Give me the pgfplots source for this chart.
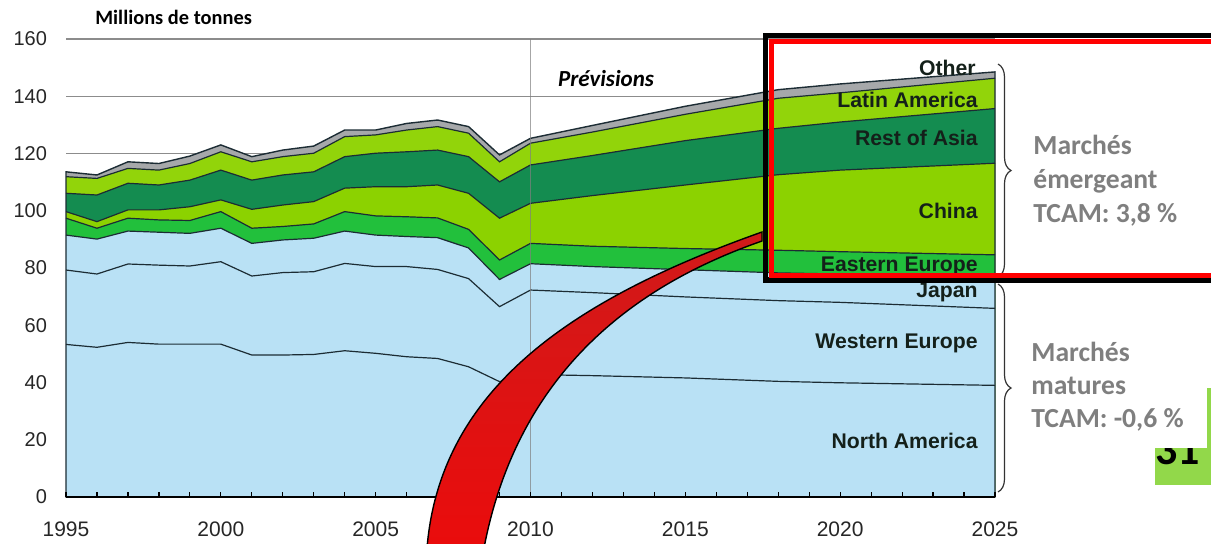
\documentclass[border=0pt]{standalone}
\usepackage{fontspec}
\setmainfont{Liberation Sans}
\newfontfamily\carlito{Carlito}
\usepackage{pgfplots}
\usepackage{pgfplotstable}
\pgfplotsset{compat=1.18}
\usetikzlibrary{decorations.pathreplacing}

\definecolor{lblue}{HTML}{B9E1F5}
\definecolor{mgreen}{HTML}{22C03C}
\definecolor{lgreen}{HTML}{8CD200}
\definecolor{lgreenb}{HTML}{92D40A}
\definecolor{dgreen}{HTML}{148C50}
\definecolor{othc}{HTML}{A6A8AA}
\definecolor{linec}{HTML}{1C2C34}
\definecolor{gridc}{HTML}{8C8C8C}
\definecolor{labc}{HTML}{14201A}
\definecolor{grayt}{HTML}{7F7F7F}
\definecolor{boxgreen}{HTML}{92D84A}
\definecolor{ardark}{HTML}{922628}
\definecolor{arbright}{HTML}{EA0C0C}
\definecolor{artop}{HTML}{D01A1A}

\pgfplotstableread{
year na we jp ee cn ra la ot
1995 53.3 79.3 91.5 97.4 99.7 106.1 111.9 113.6
1996 52.3 77.9 90.1 93.9 96.2 105.5 111.3 112.5
1997 54.0 81.4 92.9 97.4 100.3 109.6 114.8 117.1
1998 53.4 81.0 92.5 96.8 100.3 109.0 114.2 116.5
1999 53.4 80.7 92.1 96.6 101.4 110.7 116.5 119.1
2000 53.4 82.2 93.9 99.7 103.8 114.2 120.6 123.0
2001 49.6 77.2 88.6 93.9 100.5 110.7 117.1 118.9
2002 49.6 78.4 89.8 94.5 102.0 112.5 118.9 121.2
2003 49.8 78.7 90.4 95.4 103.2 113.6 120.1 122.6
2004 51.1 81.6 92.9 99.7 107.9 118.9 125.9 128.2
2005 50.2 80.5 91.5 98.2 108.4 120.1 126.5 128.2
2006 49.0 80.5 91.0 97.9 108.4 120.6 128.2 130.5
2007 48.4 79.5 90.6 97.5 109.0 121.2 129.4 131.7
2008 45.5 76.3 87.0 93.5 106.1 118.9 127.1 129.4
2009 40.3 66.5 76.0 82.8 97.4 110.1 117.1 119.5
2010 42.8 72.3 81.5 88.6 102.6 116.0 123.6 125.3
2012 42.4 71.4 80.5 87.6 105.3 119.3 127.5 129.8
2015 41.6 69.9 79.4 86.8 109.0 124.5 133.7 136.5
2018 40.4 68.6 78.3 86.2 112.6 128.8 139.3 142.3
2020 39.9 68.0 77.9 85.7 114.2 131.0 141.2 144.3
2025 39.0 65.9 77.0 84.6 116.6 135.7 146.3 148.5
}\data

\begin{document}
\begin{tikzpicture}
\begin{axis}[
  at={(0,0)}, anchor=south west,
  scale only axis, width=464.5pt, height=229pt,
  xmin=1995, xmax=2025, ymin=0, ymax=160,
  clip=false, axis on top, no markers,
  axis x line*=bottom, axis y line*=left,
  y axis line style={draw=none},
  x axis line style={black, line width=0.8pt},
  xtick={1995,2000,...,2025}, minor x tick num=4,
  ytick={0,20,...,160},
  every tick/.style={black, line width=0.6pt},
  ytick style={draw=none},
  tick align=inside,
  major tick length=2.6pt, minor tick length=2.6pt,
  /pgf/number format/1000 sep={},
  /pgf/number format/assume math mode=true,
  xticklabel style={font=\fontsize{10.5}{12}\selectfont, text=black!85, yshift=-9pt},
  yticklabel style={font=\fontsize{10}{12}\selectfont, text=black!85, xshift=-6pt},
]
\pgfplotsinvokeforeach{20,40,...,160}{
  \draw[gridc, line width=0.7pt] (axis cs:1995,#1) -- (axis cs:2025,#1);
}
\addplot[draw=none, fill=othc] table[x=year,y=ot]{\data} \closedcycle;
\addplot[draw=none, fill=lgreenb] table[x=year,y=la]{\data} \closedcycle;
\addplot[draw=none, fill=dgreen] table[x=year,y=ra]{\data} \closedcycle;
\addplot[draw=none, fill=lgreen] table[x=year,y=cn]{\data} \closedcycle;
\addplot[draw=none, fill=mgreen] table[x=year,y=ee]{\data} \closedcycle;
\addplot[draw=none, fill=lblue] table[x=year,y=jp]{\data} \closedcycle;
\pgfplotsinvokeforeach{na,we,jp,ee,cn,ra,la}{
  \addplot[linec, line width=0.6pt] table[x=year,y=#1]{\data};
}
\addplot[linec, line width=0.7pt] table[x=year,y=ot]{\data} \closedcycle;
\draw[gray, opacity=0.7, line width=0.5pt] (axis cs:2010,0) -- (axis cs:2010,160);
\end{axis}

\begin{scope}[x=0.5pt, y=-0.5pt, shift={(-66,-497)}]
  \node[anchor=west, inner sep=0pt, font=\carlito\bfseries\fontsize{10.2}{12}\selectfont] at (95,17) {Millions de tonnes};
  \node[inner sep=0pt, font=\carlito\bfseries\itshape\fontsize{11.5}{13}\selectfont] at (606,79) {Prévisions};

  \begin{scope}[every node/.style={anchor=east, inner sep=0pt, text=labc, font=\bfseries\fontsize{10.6}{12}\selectfont}]
    \node at (976,68) {Other};
    \node at (978,100) {Latin America};
    \node at (978,138) {Rest of Asia};
    \node at (978,211) {China};
    \node at (978,266) {Eastern Europe};
    \node at (978,292) {Japan};
    \node at (978,343) {Western Europe};
    \node at (978,441) {North America};
  \end{scope}

  \draw[decorate, decoration={brace, amplitude=6.5pt}, black!80, line width=0.6pt] (998,64) -- (998,277);
  \draw[decorate, decoration={brace, amplitude=6.5pt}, black!80, line width=0.6pt] (998,284) -- (998,492);

  \draw[black, line width=2.75pt] (765.5,35.5) rectangle (1240,280);
  \draw[red, line width=2.5pt] (771.5,41) rectangle (1240,275.5);

  \node[anchor=west, align=left, inner sep=0pt, text=grayt, font=\carlito\bfseries\fontsize{13.8}{17}\selectfont] at (1033,181) {Marchés\\émergeant\\TCAM: 3,8 \%};

  \begin{scope}
    \clip (1155,388) rectangle (1215,485);
    \fill[boxgreen] (1155,388) rectangle (1215,485);
    \node[anchor=base west, inner sep=0pt, font=\carlito\bfseries\fontsize{22}{24}\selectfont] at (1155,464) {31};
  \end{scope}
  \fill[white] (1150,380) rectangle (1207,448);
  \node[anchor=west, align=left, inner sep=0pt, text=grayt, font=\carlito\bfseries\fontsize{13.8}{16.5}\selectfont] at (1031,387) {Marchés\\matures\\TCAM: -0,6 \%};

  \path[draw=black, line width=0.7pt, top color=artop, middle color=ardark, bottom color=arbright]
    (427,548) .. controls (440,390) and (570,300) .. (762,232)
    -- (762,241)
    .. controls (650,280) and (520,360) .. (484,548)
    -- cycle;

  \pgfresetboundingbox
  \path[use as bounding box] (0,0) rectangle (1211,543);
\end{scope}
\end{tikzpicture}
\end{document}
